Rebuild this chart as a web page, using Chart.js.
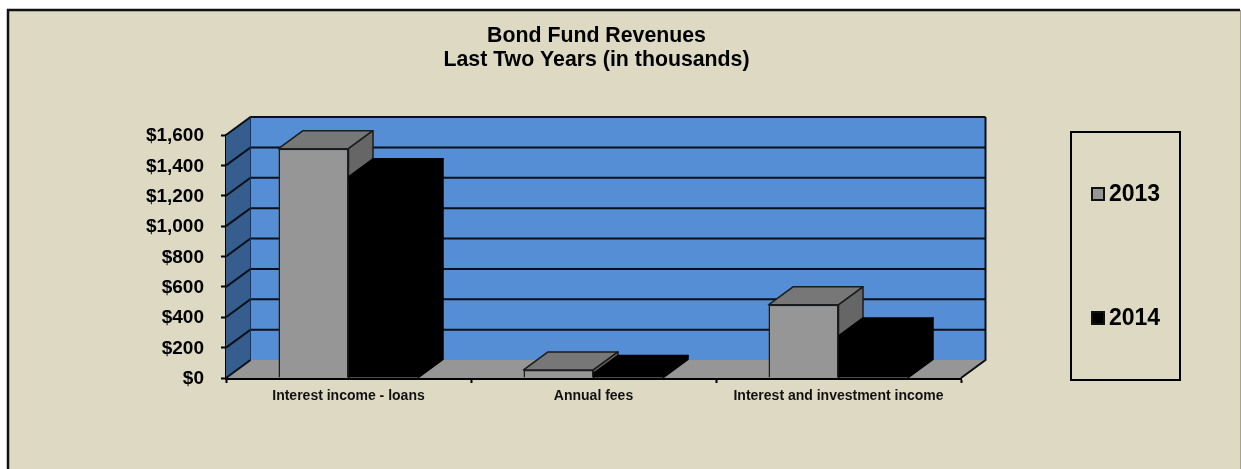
<!DOCTYPE html>
<html>
<head>
<meta charset="utf-8">
<title>Bond Fund Revenues</title>
<script src="https://cdn.jsdelivr.net/npm/chart.js@4"></script>
<style>
    html, body { margin: 0; padding: 0; background: #fff; }
    canvas { display: block; }
</style>
</head>
<body>
<canvas id="revenueChart" width="1241" height="469"></canvas>
<script>
const titleLines = ['Bond Fund Revenues', 'Last Two Years (in thousands)']
const categories = ['Interest income - loans', 'Annual fees', 'Interest and investment income']
const seriesNames = ['2013', '2014']
const values2013 = [1510, 53, 482]
const values2014 = [1325, 30, 277]
const yMax  = 1600
const yStep = 200

const FONT  = '"Liberation Sans", Arial, sans-serif'
const PAPER = '#ddd9c3'
const WALL  = '#558ed5'
const SIDE  = '#355d8e'
const FLOOR = '#969696'
const DEPTH_X = 24.5
const DEPTH_Y = 18

const faceColors = [
    { front: '#969696', top: '#777777', side: '#666666', edge: '#1c1c1c' },
    { front: '#000000', top: '#000000', side: '#000000', edge: '#000000' }
]

function polygon(c, points, fill, stroke, width) {
    c.beginPath()
    points.forEach((p, i) => i ? c.lineTo(p[0], p[1]) : c.moveTo(p[0], p[1]))
    c.closePath()
    c.fillStyle = fill
    c.fill()
    if (stroke) {
        c.strokeStyle = stroke
        c.lineWidth = width
        c.lineJoin = 'round'
        c.stroke()
    }
}

// page frame behind everything
const framePlugin = {
    id: 'frame',
    beforeDraw(chart) {
        const c = chart.ctx
        c.save()
        c.fillStyle = PAPER
        c.fillRect(8, 10, chart.width - 9, chart.height - 10)
        c.strokeStyle = '#111'
        c.lineWidth = 2.5
        c.beginPath()
        c.moveTo(8, chart.height)
        c.lineTo(8, 10)
        c.lineTo(chart.width - 1, 10)
        c.stroke()
        c.fillStyle = '#a5a291'
        c.fillRect(chart.width - 1, 10, 1, chart.height - 10)
        c.restore()
    }
}

// back wall, side wall and floor, gridlines follow the y scale
const wallsPlugin = {
    id: 'walls',
    beforeDatasetsDraw(chart) {
        const c = chart.ctx
        const { left, right, top, bottom } = chart.chartArea
        const y = chart.scales.y
        c.save()
        polygon(c, [[left + DEPTH_X, top - DEPTH_Y], [right + DEPTH_X, top - DEPTH_Y], [right + DEPTH_X, bottom - DEPTH_Y], [left + DEPTH_X, bottom - DEPTH_Y]], WALL)
        polygon(c, [[left, top], [left + DEPTH_X, top - DEPTH_Y], [left + DEPTH_X, bottom - DEPTH_Y], [left, bottom]], SIDE)
        polygon(c, [[left, bottom], [left + DEPTH_X, bottom - DEPTH_Y], [right + DEPTH_X, bottom - DEPTH_Y], [right, bottom]], FLOOR)

        c.strokeStyle = '#0a0f18'
        c.lineWidth = 2
        y.ticks.forEach(t => {
            const py = y.getPixelForValue(t.value)
            c.beginPath()
            c.moveTo(left, py)
            c.lineTo(left + DEPTH_X, py - DEPTH_Y)
            if (t.value > 0) c.lineTo(right + DEPTH_X, py - DEPTH_Y)
            c.stroke()
        })

        c.lineWidth = 2
        c.beginPath()
        c.moveTo(right, bottom)
        c.lineTo(right + DEPTH_X, bottom - DEPTH_Y)
        c.lineTo(right + DEPTH_X, top - DEPTH_Y)
        c.stroke()

        c.strokeStyle = '#1d3350'
        c.lineWidth = 1
        c.beginPath()
        c.moveTo(left + DEPTH_X, top - DEPTH_Y)
        c.lineTo(left + DEPTH_X, bottom - DEPTH_Y)
        c.stroke()
        c.restore()
    }
}

// top and side faces of each bar, taken from the bar elements.
// Drawn under the fronts, 2014 last so its block hides the lower part of the 2013 side
const barDepthPlugin = {
    id: 'barDepth',
    beforeDatasetsDraw(chart) {
        const c = chart.ctx
        c.save()
        chart.data.datasets.forEach((ds, i) => {
            const colors = faceColors[i]
            chart.getDatasetMeta(i).data.forEach(bar => {
                const l = bar.x - bar.width / 2
                const r = bar.x + bar.width / 2
                polygon(c, [[l, bar.y], [l + DEPTH_X, bar.y - DEPTH_Y], [r + DEPTH_X, bar.y - DEPTH_Y], [r, bar.y]], colors.top, colors.edge, 1.5)
                polygon(c, [[r, bar.y], [r + DEPTH_X, bar.y - DEPTH_Y], [r + DEPTH_X, bar.base - DEPTH_Y], [r, bar.base]], colors.side, colors.edge, 1.5)
            })
        })
        c.restore()
    }
}

// boxed legend to the right of the plot
const legendBoxPlugin = {
    id: 'legendBox',
    afterDraw(chart) {
        const c = chart.ctx
        c.save()
        c.strokeStyle = '#000'
        c.lineWidth = 2
        c.strokeRect(1071, 132, 109, 248)
        const rows = [194, 318]
        chart.data.datasets.forEach((ds, i) => {
            c.fillStyle = ds.backgroundColor
            c.strokeStyle = '#111'
            c.lineWidth = 2
            c.fillRect(1092, rows[i] - 6, 12, 12)
            c.strokeRect(1092, rows[i] - 6, 12, 12)
            c.fillStyle = '#000'
            c.font = 'bold 23px ' + FONT
            c.textBaseline = 'middle'
            c.fillText(ds.label, 1109, rows[i] + 1)
        })
        c.restore()
    }
}

// title centres on the plot, nudged a little to the right
const titleNudgePlugin = {
    id: 'titleNudge',
    afterLayout(chart) {
        chart.titleBlock.left += 3
        chart.titleBlock.right += 3
    }
}

const chart = new Chart(document.getElementById('revenueChart'), {
    type: 'bar',
    data: {
        labels: categories,
        datasets: [
            {
                label: seriesNames[0],
                data: values2013,
                backgroundColor: faceColors[0].front,
                borderColor: faceColors[0].edge,
                borderWidth: 1.5
            },
            {
                label: seriesNames[1],
                data: values2014,
                backgroundColor: faceColors[1].front,
                borderColor: faceColors[1].edge,
                borderWidth: 0
            }
        ]
    },
    options: {
        responsive: false,
        animation: false,
        categoryPercentage: 140 / 245,
        barPercentage: 1,
        layout: { padding: { left: 0, right: 280, top: 0, bottom: 0 } },
        plugins: {
            legend: { display: false },
            tooltip: { enabled: false },
            title: {
                display: true,
                fullSize: false,
                text: titleLines,
                color: '#000',
                font: { family: FONT, size: 21.3, weight: 'bold', lineHeight: 24 / 21.3 },
                padding: { top: 24, bottom: 63 }
            }
        },
        scales: {
            x: {
                afterFit: scale => { scale.height = 91 },
                border: { color: '#000', width: 3 },
                grid: { drawOnChartArea: false, drawTicks: true, tickLength: 5, tickColor: '#000', tickWidth: 2 },
                ticks: { color: '#111', maxRotation: 0, padding: 5, font: { family: FONT, size: 14, weight: 'bold' } }
            },
            y: {
                min: 0,
                max: yMax,
                afterFit: scale => { scale.width = 226 },
                border: { color: '#000', width: 3 },
                grid: { drawOnChartArea: false, drawTicks: true, tickLength: 5, tickColor: '#000', tickWidth: 2 },
                ticks: {
                    stepSize: yStep,
                    padding: 17,
                    labelOffset: 1,
                    color: '#000',
                    font: { family: FONT, size: 19, weight: 'bold' },
                    callback: v => '$' + v.toLocaleString('en-US')
                }
            }
        }
    },
    plugins: [framePlugin, wallsPlugin, barDepthPlugin, legendBoxPlugin, titleNudgePlugin]
})
</script>
</body>
</html>
